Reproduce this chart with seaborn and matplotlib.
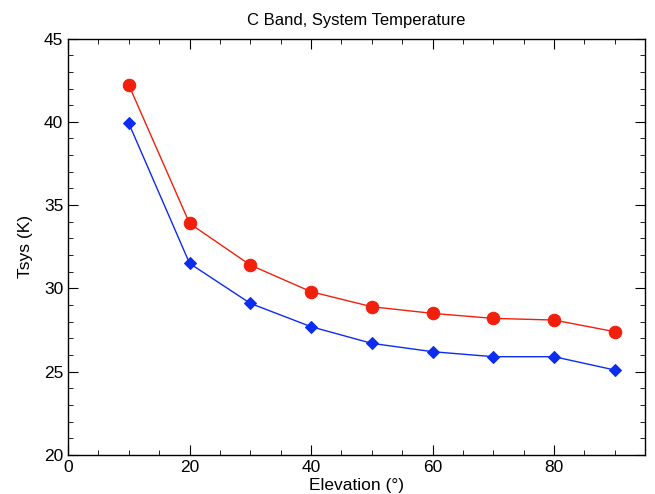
import numpy as np
import pandas as pd
import matplotlib
matplotlib.use("Agg")
import matplotlib.pyplot as plt
from matplotlib.ticker import MultipleLocator
import seaborn as sns

# Data
elevation = [10, 20, 30, 40, 50, 60, 70, 80, 90]
tsys_red = [42.2, 33.9, 31.4, 29.8, 28.9, 28.5, 28.2, 28.1, 27.4]
tsys_blue = [39.9, 31.5, 29.1, 27.7, 26.7, 26.2, 25.9, 25.9, 25.1]

sns.set_style("ticks")
plt.rcParams["font.family"] = ["Liberation Sans", "DejaVu Sans"]
plt.rcParams["text.color"] = "black"
plt.rcParams["axes.labelcolor"] = "black"

df = pd.DataFrame({"Elevation": elevation, "red": tsys_red, "blue": tsys_blue})

fig = plt.figure(figsize=(6.55, 4.94), dpi=100)
ax = fig.add_axes([0.104, 0.079, 0.881, 0.843])

sns.lineplot(data=df, x="Elevation", y="red", ax=ax, color="#f0200c", lw=1,
             marker="o", markersize=9, markeredgecolor="#f0200c")
sns.lineplot(data=df, x="Elevation", y="blue", ax=ax, color="#0c2cf0", lw=1,
             marker="D", markersize=6.5, markeredgecolor="#0c2cf0")

ax.set_xlim(0, 95)
ax.set_ylim(20, 45)
ax.xaxis.set_major_locator(MultipleLocator(20))
ax.xaxis.set_minor_locator(MultipleLocator(5))
ax.yaxis.set_major_locator(MultipleLocator(5))
ax.yaxis.set_minor_locator(MultipleLocator(1))
ax.tick_params(which="both", direction="in", top=True, right=True,
               labelsize=12.5, color="black", labelcolor="black")
ax.tick_params(which="major", length=7)
ax.tick_params(which="minor", length=3.5)
for s in ax.spines.values():
    s.set_visible(True)
    s.set_linewidth(1)
    s.set_color("black")

ax.set_title("C Band, System Temperature", fontsize=12, pad=10, color="black")
ax.set_xlabel("Elevation (°)", fontsize=12.5, labelpad=2, color="black")
ax.set_ylabel("Tsys (K)", fontsize=12.5, labelpad=8, color="black")

fig.savefig("out.png", dpi=100)
